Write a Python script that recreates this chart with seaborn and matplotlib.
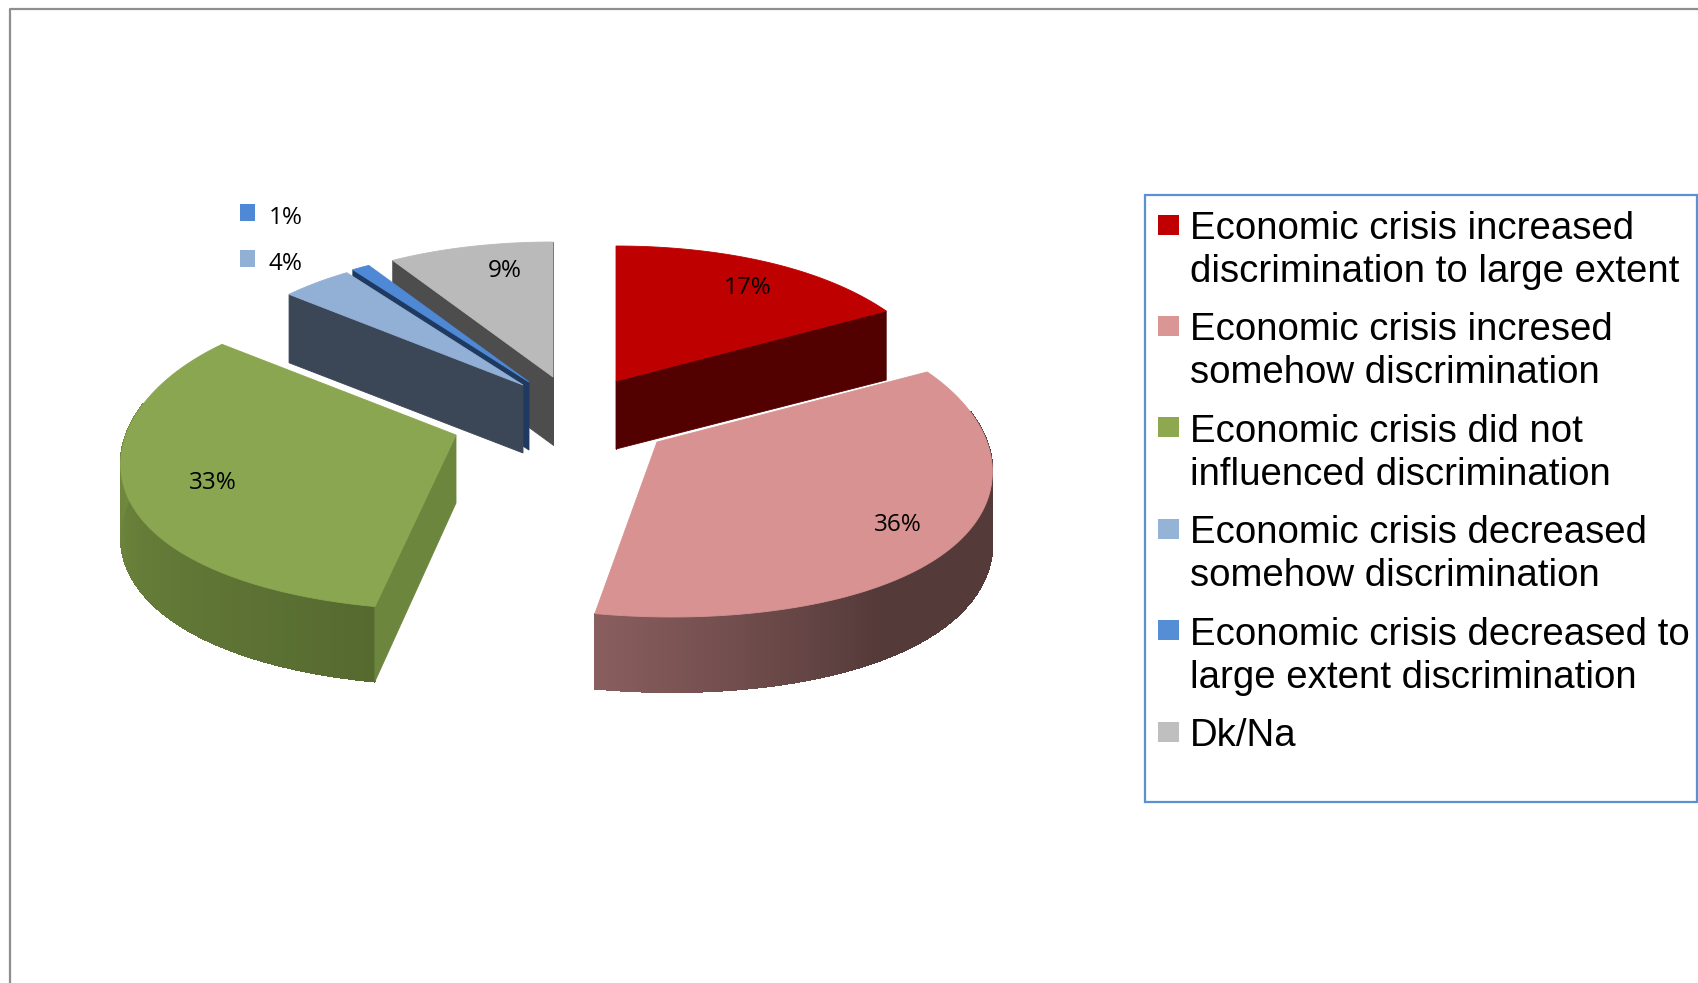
import numpy as np
import seaborn as sns
import matplotlib
matplotlib.use('Agg')
import matplotlib.pyplot as plt
from matplotlib.patches import Polygon, Rectangle

categories = [
    'Economic crisis increased\ndiscrimination to large extent',
    'Economic crisis incresed\nsomehow discrimination',
    'Economic crisis did not\ninfluenced discrimination',
    'Economic crisis decreased\nsomehow discrimination',
    'Economic crisis decreased to\nlarge extent discrimination',
    'Dk/Na',
]
shares = [17, 36, 33, 4, 1, 9]

top_colors = ['#BE0000', '#D79291', '#8AA650', '#92B0D5', '#4F88D4', '#BABABA']
key_colors = ['#C00000', '#D99694', '#8EA84F', '#95B3D7', '#558ED5', '#BFBFBF']
wall_colors = ['#530000', '#553A3A', '#6D863D', '#3B4656', '#1F3A60', '#4D4D4D']
rim_light = ['#530000', '#8A5E5E', '#7D9845', '#3B4656', '#1F3A60', '#4D4D4D']
rim_dark = ['#530000', '#553A3A', '#566A30', '#3B4656', '#1F3A60', '#4D4D4D']

# where each exploded slice has its tip, in pixels
tips = [(616, 381), (657, 442), (456, 435), (523, 385), (529, 382), (553, 377)]
label_xy = [(748, 288), (898, 525), (213, 483), (286, 264), (286, 218), (505, 271)]
near_shift = [0, 15, -5, 0, 0, 0]
draw_order = [5, 4, 3, 0, 1, 2]
# which cut walls can be seen: 0 start of the arc, -1 end of the arc
visible_walls = [[0, -1], [], [0], [0], [0], [0, -1]]

sns.set_theme(style='white')
plt.rcParams['font.family'] = ['Liberation Sans', 'DejaVu Sans']


def project(tip, theta, shift):
    # tilted circle, the near side is a bit bigger than the far side
    c, s = np.cos(theta), np.sin(theta)
    x = tip[0] + 330 * s * (1 - 0.17 * c + 0.07 * c * c) + shift * np.clip(-c, 0, None) ** 3
    y = tip[1] - c * (155 - 20 * c)
    return x, y


def rim_depth(theta):
    return 71 - 4 * np.cos(theta)


fig = plt.figure(figsize=(16.99, 9.83), dpi=100)
ax = fig.add_axes([0, 0, 1, 1])
ax.set_xlim(0, 1699)
ax.set_ylim(983, 0)
ax.axis('off')

# outer chart border, runs off the right and bottom of the picture
ax.plot([10, 10, 1699], [983, 9, 9], color='#8E8E8E', lw=1.6, solid_capstyle='butt')

edges = np.radians(np.concatenate([[0], np.cumsum(shares)]) * 3.6)

for i in draw_order:
    tip = tips[i]
    a0, a1 = edges[i], edges[i + 1]
    angles = np.linspace(a0, a1, max(int((a1 - a0) * 100), 3))
    xs, ys = project(tip, angles, near_shift[i])
    deps = rim_depth(angles)

    # outer rim, shaded along the arc, cut in strips
    n = len(angles)
    strip_cols = sns.blend_palette([rim_dark[i], rim_light[i]], n)
    if i == 1:
        # pink only lightens over the last part of its arc
        strip_cols = [rim_dark[i]] * (n * 2 // 3) + sns.blend_palette([rim_dark[i], rim_light[i]], n - n * 2 // 3)
    for j in range(n - 1):
        if np.cos(angles[j]) > 0.2:
            continue  # far side, hidden behind the top
        quad = [(xs[j], ys[j]), (xs[j + 1], ys[j + 1]),
                (xs[j + 1], ys[j + 1] + deps[j + 1]), (xs[j], ys[j] + deps[j])]
        ax.add_patch(Polygon(quad, closed=True, fc=strip_cols[j], ec=strip_cols[j], lw=0.8, antialiased=False))

    for k in visible_walls[i]:
        wall = [tip, (xs[k], ys[k]), (xs[k], ys[k] + deps[k]), (tip[0], tip[1] + 68)]
        ax.add_patch(Polygon(wall, closed=True, fc=wall_colors[i], ec=wall_colors[i], lw=0.6))

    top = [tip] + list(zip(xs, ys))
    ax.add_patch(Polygon(top, closed=True, fc=top_colors[i], ec=top_colors[i], lw=0.6))

# data labels
for i, v in enumerate(shares):
    ax.text(label_xy[i][0], label_xy[i][1], f'{v}%', family=['Open Sans', 'DejaVu Sans'],
            fontsize=17.5, color='black', ha='center', va='center')

# the two small slices have their label outside, with a key next to it
for i in [3, 4]:
    ax.add_patch(Rectangle((240, label_xy[i][1] - 14), 15, 17, fc=top_colors[i], ec='none'))

# legend box
ax.add_patch(Rectangle((1145.5, 195), 551.5, 607, fc='white', ec='#5B90D3', lw=1.6))
for i, lab in enumerate(categories):
    y = 225 + i * 101.4
    ax.add_patch(Rectangle((1158, y - 10.5), 21, 20, fc=key_colors[i], ec='none'))
    ax.text(1190, y - 14, lab, fontsize=27.6, color='black', ha='left', va='top', linespacing=1.25)

fig.savefig('out.png', dpi=100)
